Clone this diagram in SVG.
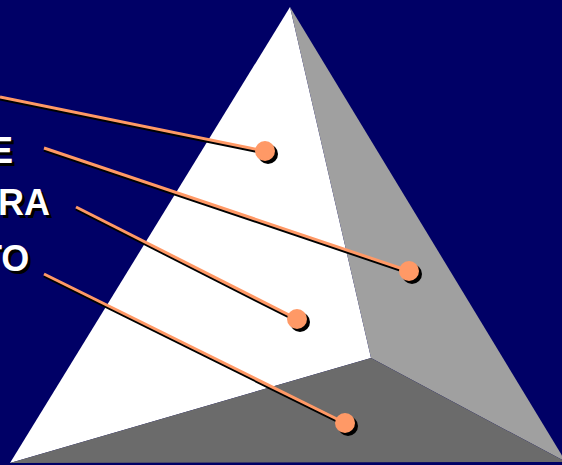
<svg xmlns="http://www.w3.org/2000/svg" width="562" height="465" viewBox="0 0 562 465">
<style>
.lbl{font-family:"Liberation Sans",Arial,sans-serif;font-weight:bold;font-size:36px}
.sh{fill:#000000}
.tx{fill:#FFFFFF}
.ln{stroke:#FF9966;stroke-width:3;fill:none}
.lns{stroke:#000000;stroke-width:3;fill:none}
.dot{fill:#FF9966}
.dots{fill:#000000}
</style>
<rect x="0" y="0" width="562" height="465" fill="#000066"/>
<g id="pyramid">
<polygon points="290,7 10,463 371,358" fill="#FFFFFF"/>
<polygon points="290,7 371,358 566,462" fill="#A0A0A0"/>
<polygon points="10,463 371,358 566,462" fill="#6B6B6B"/>
</g>
<g id="labels">
<text class="lbl sh" x="-8" y="166">E</text>
<text class="lbl tx" x="-11" y="163">E</text>
<text class="lbl sh" x="1" y="218">RA</text>
<text class="lbl tx" x="-2" y="215">RA</text>
<text class="lbl sh" x="-17" y="274">TO</text>
<text class="lbl tx" x="-20" y="271">TO</text>
</g>
<g id="connectors">
<line class="lns" x1="0" y1="99" x2="265" y2="153"/>
<line class="ln" x1="0" y1="97" x2="265" y2="151"/>
<line class="lns" x1="44" y1="150" x2="409" y2="273"/>
<line class="ln" x1="44" y1="148" x2="409" y2="271"/>
<line class="lns" x1="76" y1="209" x2="297" y2="321"/>
<line class="ln" x1="76" y1="207" x2="297" y2="319"/>
<line class="lns" x1="44" y1="276" x2="345" y2="425"/>
<line class="ln" x1="44" y1="274" x2="345" y2="423"/>
</g>
<g id="dot1"><circle class="dots" cx="268" cy="154" r="10"/><circle class="dot" cx="265" cy="151" r="10"/></g>
<g id="dot2"><circle class="dots" cx="412" cy="274" r="10"/><circle class="dot" cx="409" cy="271" r="10"/></g>
<g id="dot3"><circle class="dots" cx="300" cy="322" r="10"/><circle class="dot" cx="297" cy="319" r="10"/></g>
<g id="dot4"><circle class="dots" cx="348" cy="426" r="10"/><circle class="dot" cx="345" cy="423" r="10"/></g>
</svg>
